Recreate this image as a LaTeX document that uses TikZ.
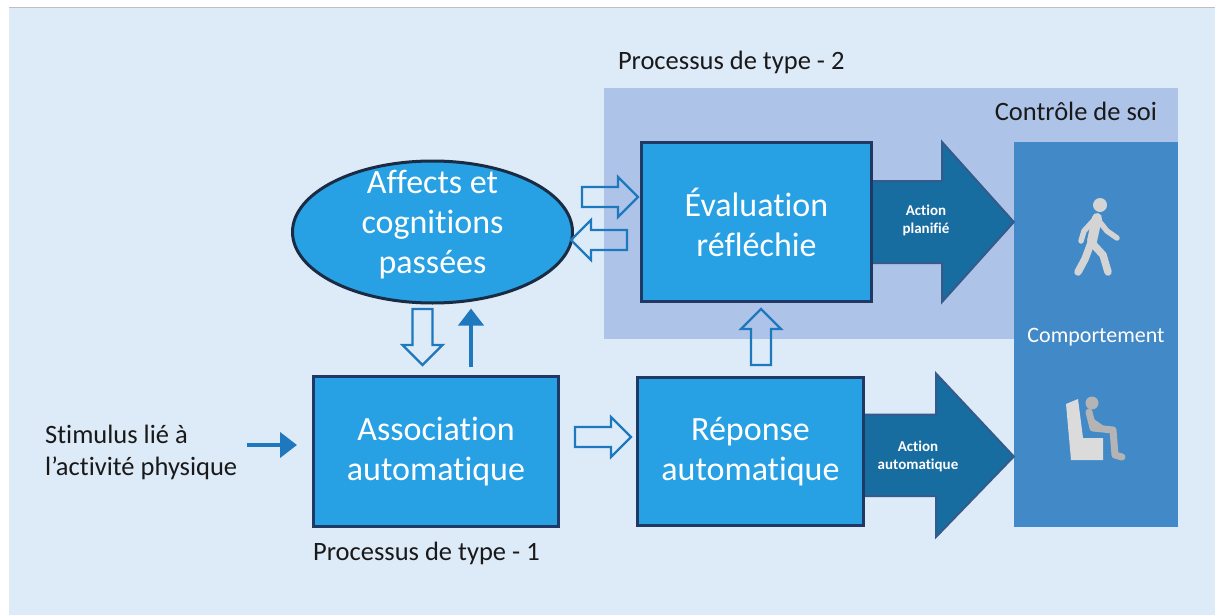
\documentclass[tikz,border=0pt]{standalone}
\usepackage{fontspec}
\setmainfont{Carlito}[Ligatures=NoCommon]
\usepackage{xcolor}
\usetikzlibrary{shapes.geometric,arrows.meta,calc}

\definecolor{bgblue}{HTML}{DDEAF7}
\definecolor{panelblue}{HTML}{AEC3E8}
\definecolor{boxfill}{HTML}{28A0E4}
\definecolor{boxline}{HTML}{1F3864}
\definecolor{ovalline}{HTML}{1A2B44}
\definecolor{compblue}{HTML}{4189C7}
\definecolor{actfill}{HTML}{176CA0}
\definecolor{actline}{HTML}{355A8C}
\definecolor{arrowblue}{HTML}{1E78BE}
\definecolor{icongrey}{HTML}{D4D4D4}

\begin{document}
\begin{tikzpicture}[x=1pt,y=-1pt,
  procbox/.style={draw=boxline, line width=3pt, fill=boxfill, text=white,
    align=center, inner sep=0pt, font=\fontsize{34}{40}\selectfont},
  labeltext/.style={inner sep=0pt, align=left, text=black!90,
    font=\fontsize{26.5}{32}\selectfont},
  actlabel/.style={text=white, align=center, inner sep=0pt,
    font=\bfseries\fontsize{15}{18}\selectfont},
  bigarrow/.style={fill=actfill, draw=actline, line width=2pt, line join=miter},
  hollow/.style={draw=arrowblue, line width=2.2pt, line join=miter},
  solidarrow/.style={draw=arrowblue, line width=4pt,
    -{Triangle[length=17pt,width=25pt]}},
  icon/.style={draw=icongrey, line cap=round, line join=round},
  pics/openarrow/.style={code={
    \draw[hollow] (-28,-10) -- (8,-10) -- (8,-20) -- (28,0) -- (8,20)
      -- (8,10) -- (-28,10) -- cycle;
  }}]
  \useasboundingbox (0,0) rectangle (1215,615);

  % Background
  \fill[white] (0,0) rectangle (1215,615);
  \fill[bgblue] (9,8) rectangle (1215,615);
  \draw[black!25, line width=1.5pt] (9,7.5) -- (1215,7.5);

  % Define the areas and boxes
  \node[fill=panelblue, minimum width=574pt, minimum height=251pt,
    inner sep=0pt] (ctrl) at (891,213.5) {};
  \node[fill=compblue, minimum width=164pt, minimum height=385pt,
    inner sep=0pt] (comp) at (1096,334.5) {};
  \node[ellipse, draw=ovalline, line width=3pt, fill=boxfill, minimum width=280pt,
    minimum height=142pt, inner sep=0pt] (affects) at (432.5,232) {};
  \node[procbox, minimum width=230pt, minimum height=159pt] (eval) at (756.5,222)
    {Évaluation\\réfléchie};
  \node[procbox, minimum width=245pt, minimum height=150pt] (assoc) at (436,451.5)
    {Association\\automatique};
  \node[procbox, minimum width=226pt, minimum height=148pt] (reponse) at (750.5,451.5)
    {Réponse\\automatique};

  % Add texts
  \node[procbox, draw=none, fill=none] at ($(affects.center)+(0,-7)$)
    {Affects et\\cognitions\\passées};
  \node[text=white, inner sep=0pt, font=\fontsize{22}{26}\selectfont]
    at ($(comp.center)+(0,3)$) {Comportement};
  \node[labeltext, anchor=west] (stim) at (45,452) {Stimulus lié à\\l’activité physique};
  \node[labeltext, anchor=west] (type1) at ($(assoc.south west)+(1,25)$) {Processus de type - 1};
  \node[labeltext, anchor=west] (type2) at ($(ctrl.north west)+(14,-25)$) {Processus de type - 2};
  \node[labeltext, anchor=east] (self) at ($(ctrl.north east)+(-21,24)$) {Contrôle de soi};

  % Draw big arrows
  \draw[bigarrow] ($(eval.east)+(0,-41)$) -- ++(69,0) -- ++(0,-39)
    -- (eval.east -| comp.west) -- ($(eval.east)+(69,80)$) -- ++(0,-39)
    -- ($(eval.east)+(0,41)$);
  \node[actlabel] at ($(eval.east)+(53,-2)$) {Action\\planifié};
  \draw[bigarrow] ($(reponse.east)+(0,-37)$) -- ++(71,0) -- ++(0,-41)
    -- ($(reponse.east -| comp.west)+(0,5)$) -- ($(reponse.east)+(71,85.5)$)
    -- ++(0,-41) -- ($(reponse.east)+(0,44.5)$);
  \node[actlabel] at ($(reponse.east)+(53,5)$) {Action\\automatique};

  % Draw hollow and solid arrows
  \pic at ($(eval.west)+(-30,-25)$) {openarrow};
  \pic[rotate=180] at ($(eval.west)+(-41,18)$) {openarrow};
  \pic[rotate=-90] at ($(assoc.north)+(-13.5,-38)$) {openarrow};
  \pic[rotate=90] at ($(reponse.north)+(10.5,-39)$) {openarrow};
  \pic at ($(assoc.east)+(43,-14.5)$) {openarrow};
  \draw[solidarrow] ($(assoc.north)+(35,-8)$) -- ($(affects.south)+(38.5,4)$);
  \coordinate (stimtip) at ($(assoc.west)+(-15,-6.5)$);
  \draw[solidarrow] ($(stimtip)+(-50,0)$) -- (stimtip);

  % Walking person
  \fill[icongrey] (1100,205) circle (7);
  \draw[icon, line width=10pt] (1097,218) -- (1092,241);
  \draw[icon, line width=5.5pt] (1094,220) -- (1084,231) -- (1081,241);
  \draw[icon, line width=5.5pt] (1099,221) -- (1107,231) -- (1117,238);
  \draw[icon, line width=7.5pt] (1091,243) -- (1085,259) -- (1078,272);
  \draw[icon, line width=7.5pt] (1092,243) -- (1103,255) -- (1108,272);

  % Seated person
  \fill[icongrey!85!white] (1066,404) -- (1078,399) -- (1083,438) -- (1103,438)
    -- (1103,460) -- (1071,460) -- cycle;
  \fill[icongrey!85!black] (1092,403) circle (6.5);
  \draw[icon, draw=icongrey!85!black, line width=7pt] (1089,412) -- (1093,428)
    -- (1113,430) -- (1115,455) -- (1122,457);
  \draw[icon, draw=icongrey!85!black, line width=4.5pt] (1090,419) -- (1107,431);
\end{tikzpicture}
\end{document}
